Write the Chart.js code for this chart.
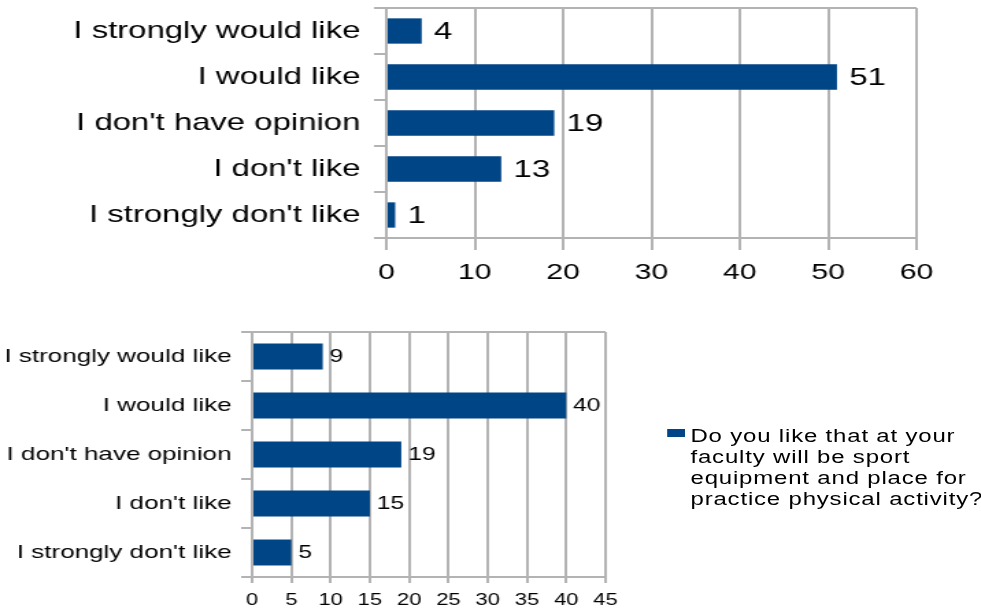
<!DOCTYPE html>
<html lang="en">
<head>
  <meta charset="UTF-8" />
  <title>Sport equipment survey</title>
  <style>
    body { margin: 0; background: #fff; overflow: hidden; font-family: 'Liberation Sans', Arial, sans-serif; }
    /* the reference is stretched sideways, so the whole page is drawn narrow and scaled */
    #page { position: absolute; left: 0; top: 0; width: 716px; height: 608px; transform: scaleX(1.37); transform-origin: 0 0; }
    .box { position: absolute; }
    #legend { position: absolute; left: 487px; top: 426px; font-size: 17.5px; line-height: 21px; letter-spacing: 0.6px; color: #000; white-space: nowrap; }
    #legend .swatch { position: absolute; left: 0; top: 3px; width: 13px; height: 8px; background: #004586; }
    #legend .text { position: absolute; left: 17px; top: 0; }
  </style>
</head>
<body>
  <div id="page">
    <div class="box" style="left:0; top:0; width:700px; height:290px;"><canvas id="topChart"></canvas></div>
    <div class="box" style="left:0; top:326px; width:470px; height:282px;"><canvas id="bottomChart"></canvas></div>
    <div id="legend"><div class="swatch"></div><div class="text" id="legend-text"></div></div>
  </div>

  <script src="https://cdn.jsdelivr.net/npm/chart.js"></script>
  <script>
    const categories = ["I strongly would like", "I would like", "I don't have opinion", "I don't like", "I strongly don't like"];
    const topValues = [4, 51, 19, 13, 1];
    const bottomValues = [9, 40, 19, 15, 5];
    const topTicks = [0, 10, 20, 30, 40, 50, 60];
    const bottomTicks = [0, 5, 10, 15, 20, 25, 30, 35, 40, 45];
    const legendLines = ["Do you like that at your", "faculty will be sport", "equipment and place for", "practice physical activity?"];

    const BAR = '#004586';
    const GRID = '#b3b3b3';

    Chart.defaults.font.family = "'Liberation Sans', Arial, sans-serif";
    Chart.defaults.color = '#000';

    // writes the value just right of each bar
    const valueLabels = {
      id: 'valueLabels',
      afterDatasetsDraw(chart, args, opts) {
        const ctx = chart.ctx;
        ctx.save();
        ctx.font = opts.size + "px 'Liberation Sans', Arial, sans-serif";
        ctx.fillStyle = '#000';
        ctx.textAlign = 'left';
        ctx.textBaseline = 'middle';
        chart.getDatasetMeta(0).data.forEach((bar, i) => {
          ctx.fillText(chart.data.datasets[0].data[i], bar.x + opts.gap, bar.y + 1);
        });
        ctx.restore();
      }
    };

    function makeChart(id, values, ticks, g) {
      const n = categories.length;
      return new Chart(document.getElementById(id), {
        type: 'bar',
        data: {
          labels: categories,
          datasets: [{
            label: legendLines.join(' '),
            data: values,
            backgroundColor: BAR,
            categoryPercentage: 1,
            barPercentage: g.barPct
          }]
        },
        plugins: [valueLabels],
        options: {
          indexAxis: 'y',
          responsive: true,
          maintainAspectRatio: false,
          animation: false,
          layout: { padding: { top: g.top, right: g.right, bottom: 0, left: 0 } },
          plugins: {
            legend: { display: false },
            tooltip: { enabled: false },
            valueLabels: { size: g.valueSize, gap: g.valueGap }
          },
          scales: {
            x: {
              min: ticks[0],
              max: ticks[ticks.length - 1],
              afterFit(scale) { scale.height = g.xHeight; },
              ticks: { stepSize: ticks[1] - ticks[0], padding: g.xPad, maxRotation: 0, autoSkip: false, font: { size: g.xSize } },
              grid: { color: GRID, lineWidth: 2, tickLength: g.xTick, tickColor: GRID },
              border: { color: GRID, width: 2 }
            },
            y: {
              afterFit(scale) {
                scale.width = g.yWidth;
                // no extra room above/below for half label heights
                scale.paddingTop = 0;
                scale.paddingBottom = 0;
              },
              ticks: { padding: g.yPad, font: { size: g.ySize } },
              grid: {
                offset: true,
                lineWidth: 2,
                tickLength: g.yTick,
                tickColor: GRID,
                color: c => (c.index === 0 || c.index === n) ? GRID : 'rgba(0,0,0,0)'
              },
              border: { color: GRID, width: 2 }
            }
          }
        }
      });
    }

    makeChart('topChart', topValues, topTicks, {
      top: 8, right: 31, barPct: 0.55,
      yWidth: 282, yTick: 9, yPad: 10, ySize: 24,
      xHeight: 52, xTick: 12, xPad: 10, xSize: 22,
      valueSize: 24, valueGap: 9
    });

    makeChart('bottomChart', bottomValues, bottomTicks, {
      top: 6, right: 28, barPct: 0.53,
      yWidth: 184, yTick: 8, yPad: 7, ySize: 19,
      xHeight: 31, xTick: 6, xPad: 8, xSize: 16,
      valueSize: 18, valueGap: 5
    });

    document.getElementById('legend-text').innerHTML = legendLines.join('<br>');
  </script>
</body>
</html>
